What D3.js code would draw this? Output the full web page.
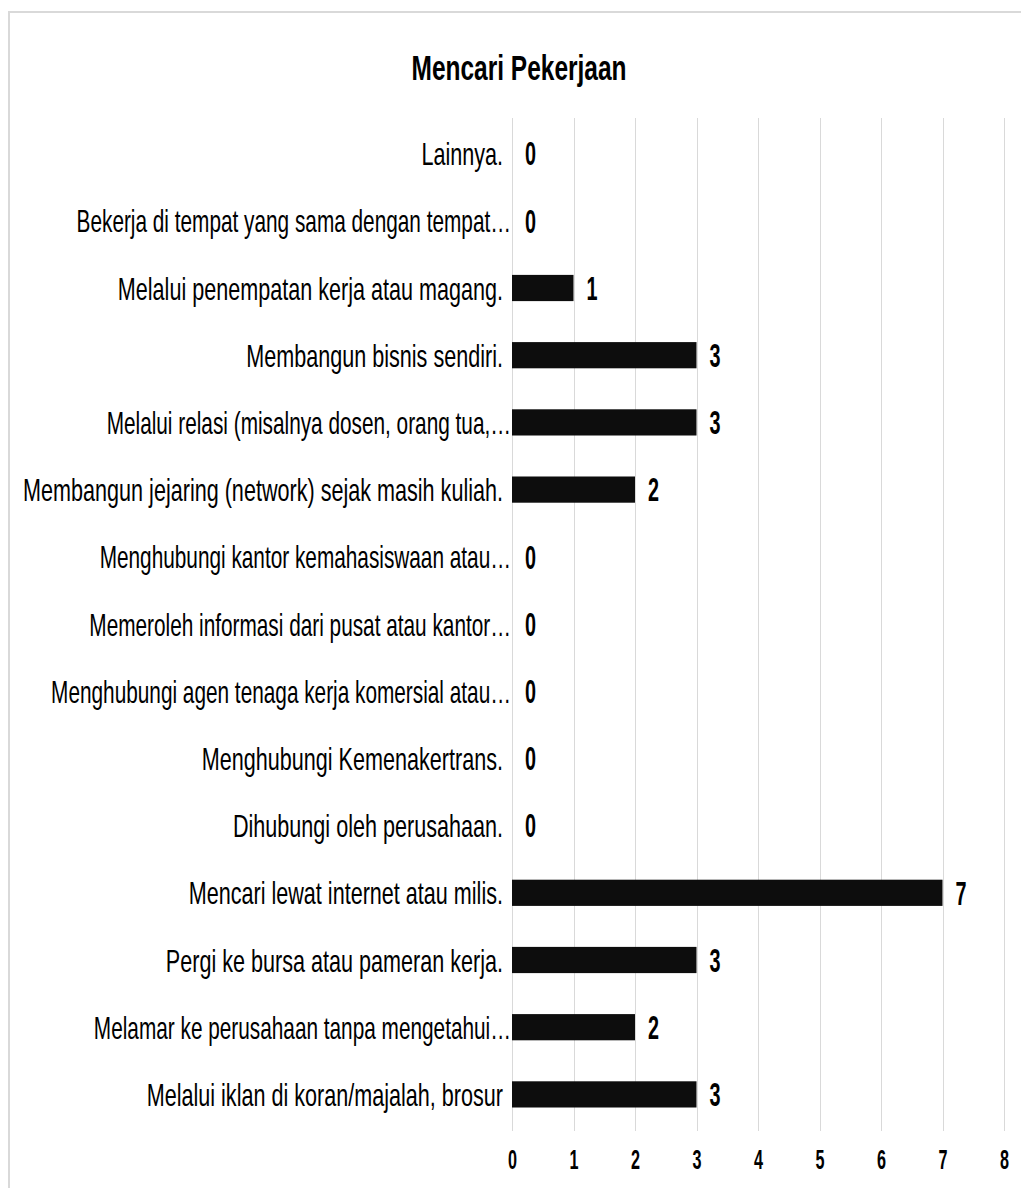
<!DOCTYPE html>
<html>
<head>
<meta charset="utf-8">
<script src="https://cdn.jsdelivr.net/npm/d3@7"></script>
<style>
  html, body { margin: 0; padding: 0; background: #fff; }
  svg { display: block; }
  text { font-family: "Liberation Sans", Arial, sans-serif; }
</style>
</head>
<body>
<svg id="chart" width="1021" height="1188"></svg>
<script>
const title = "Mencari Pekerjaan";
const categories = [
  "Lainnya.",
  "Bekerja di tempat yang sama dengan tempat…",
  "Melalui penempatan kerja atau magang.",
  "Membangun bisnis sendiri.",
  "Melalui relasi (misalnya dosen, orang tua,…",
  "Membangun jejaring (network) sejak masih kuliah.",
  "Menghubungi kantor kemahasiswaan atau…",
  "Memeroleh informasi dari pusat atau kantor…",
  "Menghubungi agen tenaga kerja komersial atau…",
  "Menghubungi Kemenakertrans.",
  "Dihubungi oleh perusahaan.",
  "Mencari lewat internet atau milis.",
  "Pergi ke bursa atau pameran kerja.",
  "Melamar ke perusahaan tanpa mengetahui…",
  "Melalui iklan di koran/majalah, brosur"
];
const values = [0, 0, 1, 3, 3, 2, 0, 0, 0, 0, 0, 7, 3, 2, 3];
const xTicks = [0, 1, 2, 3, 4, 5, 6, 7, 8];

const svg = d3.select("#chart");
const W = 1021, H = 1188;

// frame (only top/left visible in reference)
svg.append("rect")
  .attr("x", 9).attr("y", 12)
  .attr("width", W + 20).attr("height", H + 20)
  .attr("fill", "#fff")
  .attr("stroke", "#d9d9d9").attr("stroke-width", 2);

const x = d3.scaleLinear().domain([0, 8]).range([512, 1004]);
const y = d3.scaleBand().domain(categories).range([120, 1128]).paddingInner(0.61).paddingOuter(0.305);

// gridlines
svg.append("g").selectAll("line").data(xTicks).join("line")
  .attr("x1", d => Math.round(x(d)) + 0.5).attr("x2", d => Math.round(x(d)) + 0.5)
  .attr("y1", 118).attr("y2", 1131)
  .attr("stroke", "#d9d9d9").attr("stroke-width", 1);

// title
svg.append("text")
  .attr("transform", `translate(519,80) scale(0.7,1)`)
  .attr("text-anchor", "middle")
  .attr("font-size", 35).attr("font-weight", "bold")
  .attr("fill", "#000")
  .text(title);

// bars
svg.append("g").selectAll("rect").data(values).join("rect")
  .attr("x", x(0))
  .attr("y", (d, i) => y(categories[i]))
  .attr("width", d => x(d) - x(0))
  .attr("height", y.bandwidth())
  .attr("fill", "#0d0d0d");

// value labels
svg.append("g").selectAll("text").data(values).join("text")
  .attr("transform", (d, i) => `translate(${x(d) + 13},${y(categories[i]) + y.bandwidth() / 2}) scale(0.6,1)`)
  .attr("dy", "0.36em")
  .attr("font-size", 33).attr("font-weight", "bold")
  .attr("fill", "#000")
  .text(d => d);

// category axis labels
svg.append("g").selectAll("text").data(categories).join("text")
  .attr("transform", d => {
    const trunc = d.endsWith("…");
    return `translate(${trunc ? 511 : 503},${y(d) + y.bandwidth() / 2}) scale(${trunc ? 0.65 : 0.675},1)`;
  })
  .attr("dy", "0.36em")
  .attr("text-anchor", "end")
  .attr("font-size", 32)
  .attr("fill", "#000")
  .text(d => d);

// x axis tick labels
const xAxis = d3.axisBottom(x).tickValues(xTicks).tickSize(0).tickPadding(0).tickFormat(d3.format("d"));
const gx = svg.append("g").attr("transform", "translate(0,1150)").call(xAxis);
gx.select(".domain").remove();
gx.selectAll("text")
  .attr("transform", "scale(0.6,1)")
  .attr("font-size", 27).attr("font-weight", "bold")
  .attr("fill", "#000")
  .style("font-family", "\"Liberation Sans\", Arial, sans-serif");
</script>
</body>
</html>
